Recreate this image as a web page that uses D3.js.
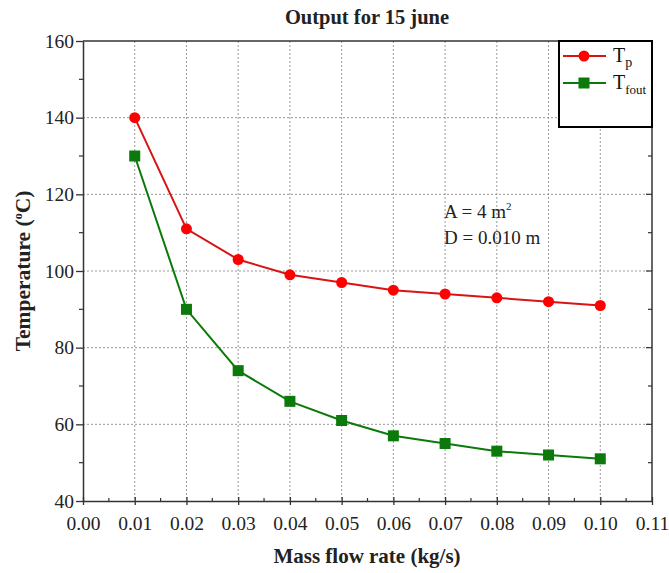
<!DOCTYPE html>
<html>
<head>
<meta charset="utf-8">
<script src="https://cdn.jsdelivr.net/npm/d3@7"></script>
<style>
  body { margin: 0; background: #fff; }
  text { font-family: "Liberation Serif", "Times New Roman", serif; }
</style>
</head>
<body>
<svg id="chart" width="669" height="573"></svg>
<script>
// values
var flowRates = [0.01, 0.02, 0.03, 0.04, 0.05, 0.06, 0.07, 0.08, 0.09, 0.10];
var tpValues = [140, 111, 103, 99, 97, 95, 94, 93, 92, 91];
var tfoutValues = [130, 90, 74, 66, 61, 57, 55, 53, 52, 51];
var xTicks = [0, 0.01, 0.02, 0.03, 0.04, 0.05, 0.06, 0.07, 0.08, 0.09, 0.10, 0.11];
var yTicks = [40, 60, 80, 100, 120, 140, 160];

var svg = d3.select("#chart");
var margin = {left: 83, right: 17, top: 41, bottom: 72};
var W = 669, H = 573;

var x = d3.scaleLinear().domain([0, 0.11]).range([margin.left, W - margin.right]);
var y = d3.scaleLinear().domain([40, 160]).range([H - margin.bottom, margin.top]);

var x0 = x.range()[0], x1 = x.range()[1], y0 = y.range()[0], y1 = y.range()[1];

// grid (dotted)
var grid = svg.append("g").attr("stroke", "#9a9a9a").attr("stroke-width", 1).attr("stroke-dasharray", "2,2");
grid.selectAll(".gx").data(xTicks.slice(1, -1)).enter().append("line")
  .attr("x1", d => x(d)).attr("x2", d => x(d)).attr("y1", y1).attr("y2", y0);
grid.selectAll(".gy").data(yTicks.slice(1, -1)).enter().append("line")
  .attr("x1", x0).attr("x2", x1).attr("y1", d => y(d)).attr("y2", d => y(d));

// axes
var fmtX = d3.format(".2f");
var xAxis = d3.axisBottom(x).tickValues(xTicks).tickFormat(fmtX).tickSizeInner(4).tickSizeOuter(0).tickPadding(11);
var gx = svg.append("g").attr("transform", "translate(0," + y0 + ")").call(xAxis);
gx.selectAll("line").attr("y1", -4);
var yAxis = d3.axisLeft(y).tickValues(yTicks).tickSizeInner(7).tickSizeOuter(0).tickPadding(2);
var gy = svg.append("g").attr("transform", "translate(" + x0 + ",0)").call(yAxis);
[gx, gy].forEach(function(g) {
  g.select(".domain").attr("stroke", "#333").attr("stroke-width", 1.5);
  g.selectAll(".tick line").attr("stroke", "#333").attr("stroke-width", 1.3);
  g.selectAll("text").attr("fill", "#222").style("font-size", "19.5px").style("font-family", "Liberation Serif, serif");
});

// minor ticks
var minorX = d3.range(0.005, 0.11, 0.01);
svg.append("g").selectAll("line").data(minorX).enter().append("line")
  .attr("x1", d => x(d)).attr("x2", d => x(d)).attr("y1", y0 - 3).attr("y2", y0)
  .attr("stroke", "#333").attr("stroke-width", 1.2);
var minorY = d3.range(50, 160, 20);
svg.append("g").selectAll("line").data(minorY).enter().append("line")
  .attr("x1", x0 - 4).attr("x2", x0).attr("y1", d => y(d)).attr("y2", d => y(d))
  .attr("stroke", "#333").attr("stroke-width", 1.2);

// frame top / right with inward ticks on right
svg.append("line").attr("x1", x0).attr("x2", x1).attr("y1", y1).attr("y2", y1).attr("stroke", "#333").attr("stroke-width", 1.5);
svg.append("line").attr("x1", x1).attr("x2", x1).attr("y1", y1).attr("y2", y0).attr("stroke", "#333").attr("stroke-width", 1.5);
svg.append("g").selectAll("line").data(d3.range(50, 160, 10)).enter().append("line")
  .attr("x1", x1).attr("x2", d => x1 - (d % 20 === 0 ? 6 : 4)).attr("y1", d => y(d)).attr("y2", d => y(d))
  .attr("stroke", "#333").attr("stroke-width", 1.2);

// series
var line = d3.line().x(d => x(d[0])).y(d => y(d[1]));
var tp = flowRates.map((f, i) => [f, tpValues[i]]);
var tf = flowRates.map((f, i) => [f, tfoutValues[i]]);

svg.append("path").datum(tf).attr("d", line).attr("fill", "none").attr("stroke", "#0b7a0b").attr("stroke-width", 2);
svg.append("path").datum(tp).attr("d", line).attr("fill", "none").attr("stroke", "#d81414").attr("stroke-width", 2);
svg.append("g").selectAll("rect").data(tf).enter().append("rect")
  .attr("x", d => x(d[0]) - 5.5).attr("y", d => y(d[1]) - 5.5).attr("width", 11).attr("height", 11)
  .attr("fill", "#0b7a0b");
svg.append("g").selectAll("circle").data(tp).enter().append("circle")
  .attr("cx", d => x(d[0])).attr("cy", d => y(d[1])).attr("r", 5.5).attr("fill", "#ff0000");

// legend
var lg = svg.append("g");
lg.append("rect").attr("x", 559).attr("y", y1).attr("width", x1 - 559).attr("height", 86)
  .attr("fill", "#fff").attr("stroke", "#000").attr("stroke-width", 2);
lg.append("line").attr("x1", 563).attr("x2", 606).attr("y1", 56).attr("y2", 56).attr("stroke", "#d81414").attr("stroke-width", 2);
lg.append("circle").attr("cx", 584).attr("cy", 56).attr("r", 5.5).attr("fill", "#ff0000");
lg.append("line").attr("x1", 563).attr("x2", 606).attr("y1", 83).attr("y2", 83).attr("stroke", "#0b7a0b").attr("stroke-width", 2);
lg.append("rect").attr("x", 578.5).attr("y", 77.5).attr("width", 11).attr("height", 11).attr("fill", "#0b7a0b");
var t1 = lg.append("text").attr("x", 613).attr("y", 62).style("font-size", "20px").attr("fill", "#111");
t1.append("tspan").text("T");
t1.append("tspan").attr("dy", 5).style("font-size", "14px").text("p");
var t2 = lg.append("text").attr("x", 613).attr("y", 89).style("font-size", "20px").attr("fill", "#111");
t2.append("tspan").text("T");
t2.append("tspan").attr("dy", 5).style("font-size", "13px").text("fout");

// annotation
var a1 = svg.append("text").attr("x", 444).attr("y", 218).style("font-size", "19px").attr("fill", "#222");
a1.append("tspan").text("A = 4 m");
a1.append("tspan").attr("dy", -8).style("font-size", "11px").text("2");
svg.append("text").attr("x", 444).attr("y", 244).style("font-size", "19px").attr("fill", "#222").text("D = 0.010 m");

// titles
svg.append("text").attr("x", 367).attr("y", 24).attr("text-anchor", "middle")
  .style("font-size", "20.5px").style("font-weight", "bold").attr("fill", "#222").text("Output for 15 june");
svg.append("text").attr("x", 367).attr("y", 563).attr("text-anchor", "middle")
  .style("font-size", "21px").style("font-weight", "bold").attr("fill", "#222").text("Mass flow rate (kg/s)");
var yl = svg.append("text").attr("transform", "translate(30," + ((y0 + y1) / 2) + ") rotate(-90)")
  .attr("text-anchor", "middle").style("font-size", "21.5px").style("font-weight", "bold").attr("fill", "#222");
yl.append("tspan").text("Temperature (");
yl.append("tspan").attr("dy", -8).style("font-size", "12px").text("o");
yl.append("tspan").attr("dy", 8).text("C)");
</script>
</body>
</html>
